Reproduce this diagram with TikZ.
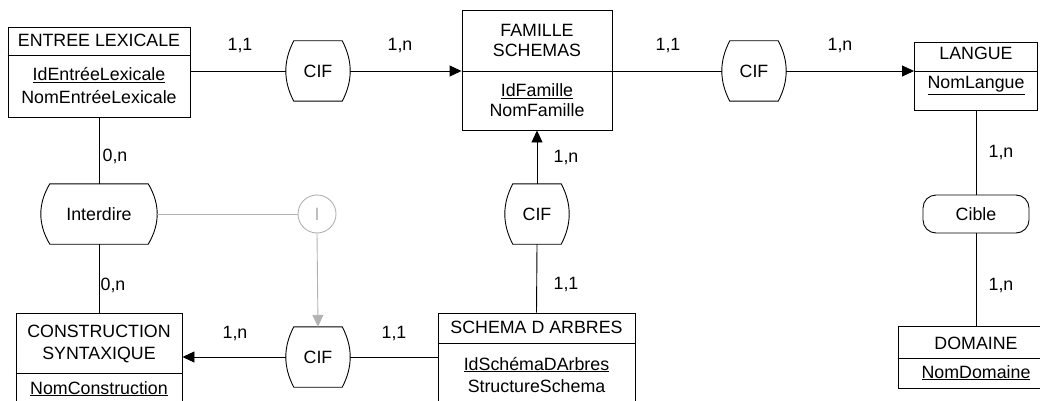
\documentclass[tikz,border=0pt]{standalone}
\usepackage{fontspec}
\setmainfont{Liberation Sans}
\usetikzlibrary{arrows.meta,calc}
\definecolor{linegray}{RGB}{178,178,178}
\newcommand\drawbarrel[2]{%
  \draw[shp] ($(#1.north west)+(#2,0)$) -- ($(#1.north east)+(-#2,0)$)
    .. controls ($(#1.north east)!1/3!(#1.south east)+(#2/3,0)$) and ($(#1.north east)!2/3!(#1.south east)+(#2/3,0)$) .. ($(#1.south east)+(-#2,0)$)
    -- ($(#1.south west)+(#2,0)$)
    .. controls ($(#1.north west)!2/3!(#1.south west)+(-#2/3,0)$) and ($(#1.north west)!1/3!(#1.south west)+(-#2/3,0)$) .. ($(#1.north west)+(#2,0)$) -- cycle;}
\begin{document}
\begin{tikzpicture}[x=1pt,y=-1pt,
  every node/.style={font=\fontsize{17.8}{21}\selectfont},
  ent/.style={draw, line width=0.9pt, inner sep=0pt, minimum width=#1},
  txt/.style={inner sep=0pt, anchor=base},
  rel/.style={inner sep=0pt, minimum height=60, minimum width=#1},
  shp/.style={line width=0.9pt},
  lnk/.style={line width=0.9pt},
  arr/.style={line width=0.9pt, -{Triangle[length=12pt,width=11pt]}},
  card/.style={inner sep=0pt, anchor=base}]
\path[use as bounding box] (0,0) rectangle (1040,401);
\clip (0,0) rectangle (1040,401);

% entity boxes
\node[ent=182, minimum height=90] (el) at (99,72) {};
\draw[shp] (el.west |- 0,55) -- (el.east |- 0,55);
\node[txt] (elT) at (99,47) {ENTREE LEXICALE};
\node[txt] (elA) at (99,81) {\underline{IdEntréeLexicale}};
\node[txt] (elB) at (99,103) {NomEntréeLexicale};

\node[ent=150, minimum height=120] (fs) at (537,70) {};
\draw[shp] (fs.west |- 0,71) -- (fs.east |- 0,71);
\node[txt] (fsT1) at (537,37) {FAMILLE};
\node[txt] (fsT2) at (537,57) {SCHEMAS};
\node[txt] (fsA) at (537,97) {\underline{IdFamille}};
\node[txt] (fsB) at (537,117) {NomFamille};

\node[ent=123, minimum height=68] (lg) at (976,76) {};
\draw[shp] (lg.west |- 0,71) -- (lg.east |- 0,71);
\node[txt] (lgT) at (976,60) {LANGUE};
\node[txt] (lgA) at (976,89) {\underline{NomLangue}};

\node[ent=166, minimum height=107] (cs) at (99,366.5) {};
\draw[shp] (cs.west |- 0,373) -- (cs.east |- 0,373);
\node[txt] (csT1) at (99,337) {CONSTRUCTION};
\node[txt] (csT2) at (99,359) {SYNTAXIQUE};
\node[txt] (csA) at (99,394) {\underline{NomConstruction}};

\node[ent=197, minimum height=107] (sa) at (536.5,366.5) {};
\draw[shp] (sa.west |- 0,343) -- (sa.east |- 0,343);
\node[txt] (saT) at (536.5,333) {SCHEMA D ARBRES};
\node[txt] (saA) at (536.5,370) {\underline{IdSchémaDArbres}};
\node[txt] (saB) at (536.5,392) {StructureSchema};

\node[ent=156, minimum height=62] (dm) at (976,357) {};
\draw[shp] (dm.west |- 0,358) -- (dm.east |- 0,358);
\node[txt] (dmT) at (976,349) {DOMAINE};
\node[txt] (dmA) at (976,378) {\underline{NomDomaine}};

% relations
\node[rel=64] (cif1) at (318,71) {CIF};   \drawbarrel{cif1}{8}
\node[rel=64] (cif2) at (754,71) {CIF};   \drawbarrel{cif2}{8}
\node[rel=64] (cif4) at (537,214) {CIF};  \drawbarrel{cif4}{8}
\node[rel=64] (cif3) at (318,357) {CIF};  \drawbarrel{cif3}{8}
\node[rel=116] (inter) at (99,214) {Interdire}; \drawbarrel{inter}{9}
\node[draw, line width=0.9pt, rounded corners=13pt, minimum width=106, minimum height=38, inner sep=0pt] (cible) at (976,214) {Cible};
\node[draw=linegray, text=linegray, circle, minimum size=38, inner sep=0pt, line width=0.9pt] (circ) at (317,214) {I};

% connectors
\draw[lnk] (el.east |- cif1.west) -- (cif1.west);
\draw[arr] (cif1.east) -- (fs.west |- cif1.east);
\draw[lnk] (fs.east |- cif2.west) -- (cif2.west);
\draw[arr] (cif2.east) -- (lg.west |- cif2.east);
\draw[lnk] (lg.south) -- (cible.north);
\draw[lnk] (cible.south) -- (dm.north);
\draw[lnk] (el.south) -- (inter.north);
\draw[lnk] (inter.south) -- (cs.north);
\draw[lnk, linegray] (inter.east) -- (circ.west);
\draw[arr, linegray] (circ.south) -- (cif3.north);
\draw[arr] (cif3.west) -- (cs.east |- cif3.west);
\draw[lnk] (sa.west |- cif3.east) -- (cif3.east);
\draw[lnk] (sa.north) -- (cif4.south);
\draw[arr] (cif4.north) -- (fs.south);

% cardinalities
\node[card] (c1) at (240,51) {1,1};
\node[card] (c2) at (400,51) {1,n};
\node[card] (c3) at (668,51) {1,1};
\node[card] (c4) at (840,51) {1,n};
\node[card] (c5) at (115,161) {0,n};
\node[card] (c6) at (113,290) {0,n};
\node[card] (c7) at (1001,157) {1,n};
\node[card] (c8) at (1001,290) {1,n};
\node[card] (c9) at (566,162) {1,n};
\node[card] (c10) at (566,289) {1,1};
\node[card] (c11) at (235,338) {1,n};
\node[card] (c12) at (394,338) {1,1};
\end{tikzpicture}
\end{document}
